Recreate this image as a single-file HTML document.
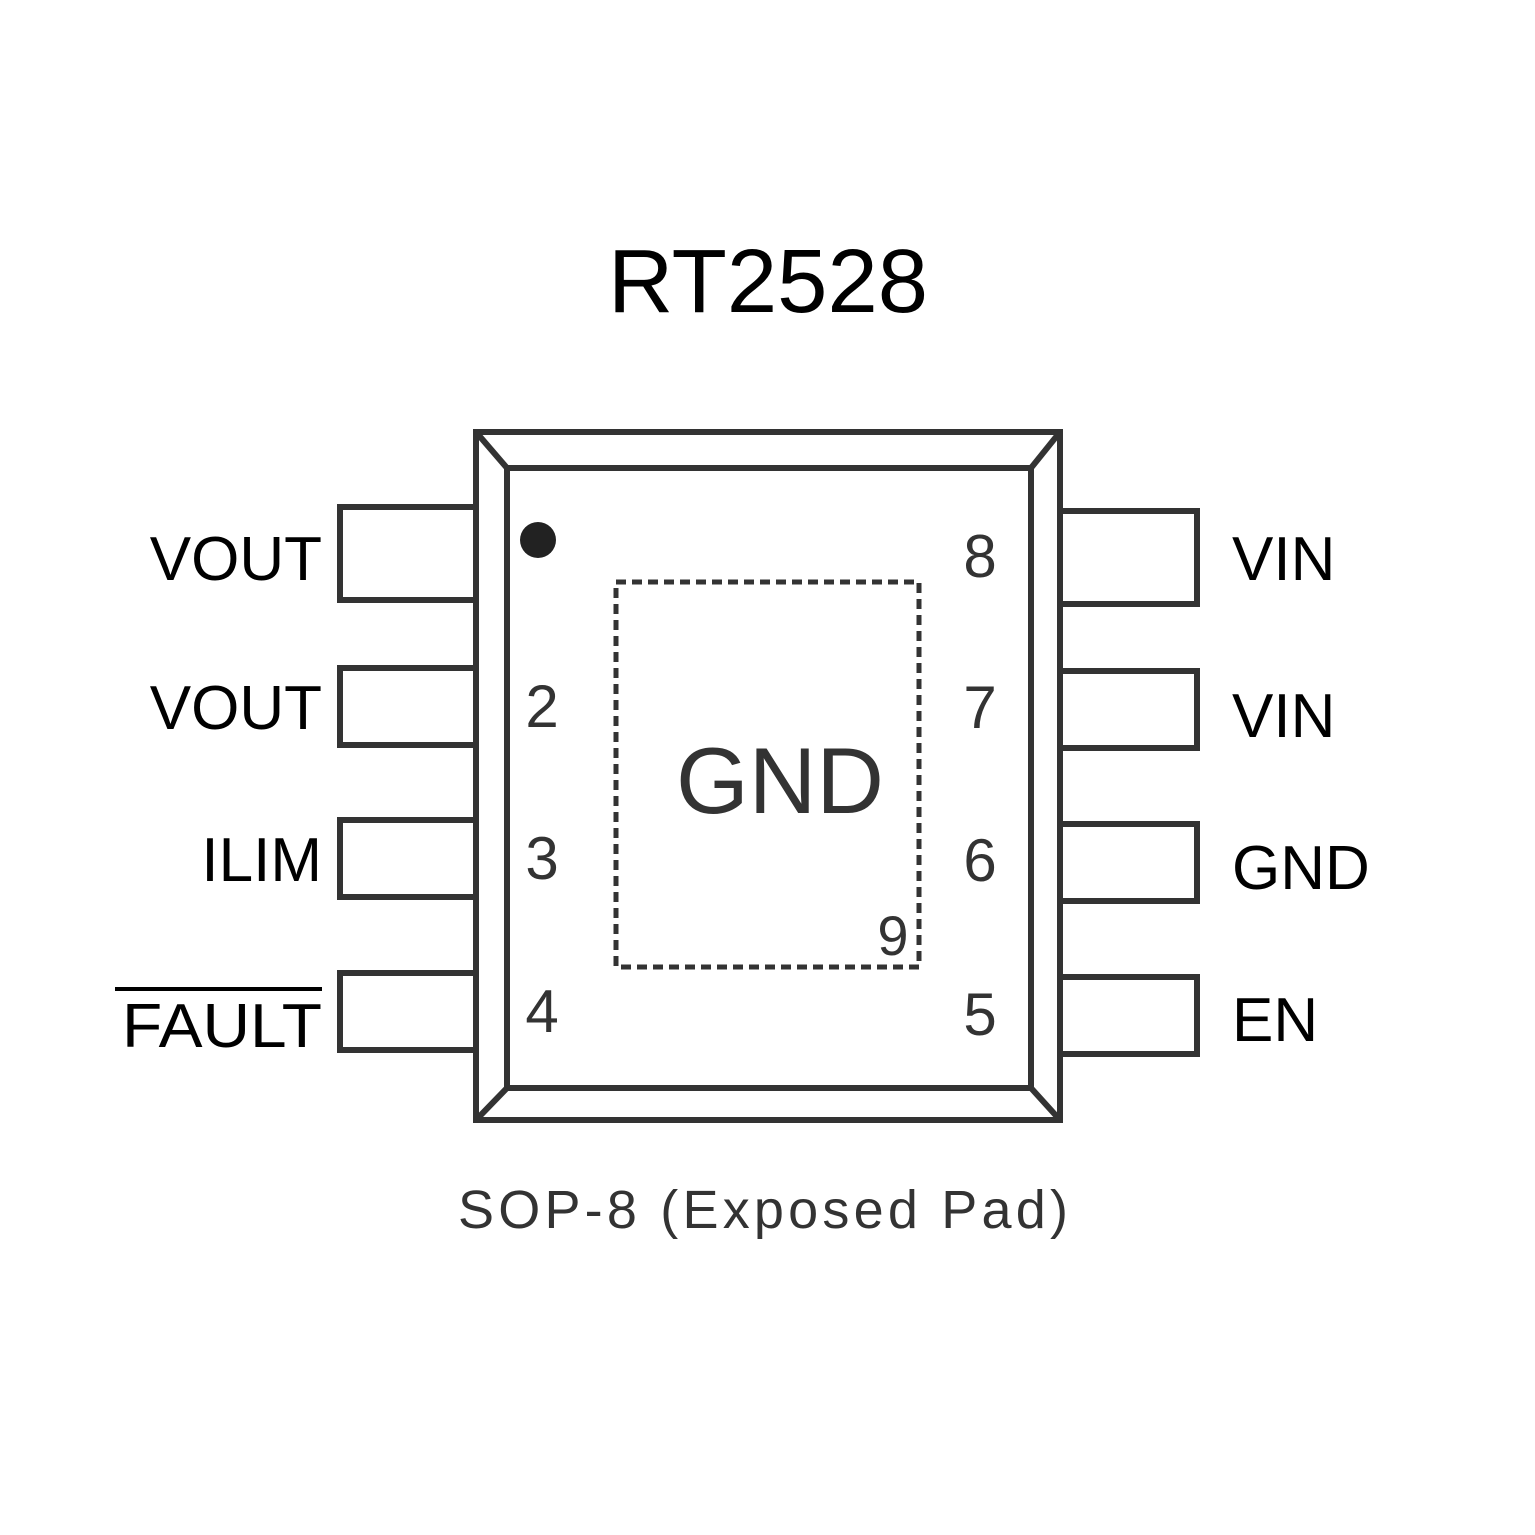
<!DOCTYPE html>
<html><head><meta charset="utf-8"><style>
html,body{margin:0;padding:0;background:#fff;}
svg{display:block;}
text{font-family:"Liberation Sans",Arial,sans-serif;}
</style></head><body>
<svg width="1535" height="1535" viewBox="0 0 1535 1535" xmlns="http://www.w3.org/2000/svg">
<rect width="1535" height="1535" fill="#fff"/>
<g fill="none" stroke="#333" stroke-width="6">
<rect x="476" y="432" width="584" height="688"/>
<rect x="507" y="468" width="524" height="620"/>
<line x1="476" y1="432" x2="507" y2="468"/>
<line x1="1060" y1="432" x2="1031" y2="468"/>
<line x1="476" y1="1120" x2="507" y2="1088"/>
<line x1="1060" y1="1120" x2="1031" y2="1088"/>
<rect x="340" y="507" width="136" height="93"/>
<rect x="340" y="668" width="136" height="77"/>
<rect x="340" y="820" width="136" height="77"/>
<rect x="340" y="973" width="136" height="77"/>
<rect x="1060" y="511" width="137" height="93"/>
<rect x="1060" y="671" width="137" height="77"/>
<rect x="1060" y="824" width="137" height="77"/>
<rect x="1060" y="977" width="137" height="77"/>
<rect x="616" y="582" width="303" height="385" stroke-width="5" stroke-dasharray="10,6"/>
<line x1="115" y1="989" x2="322" y2="989" stroke="#000" stroke-width="4"/>
</g>
<circle cx="538" cy="540" r="18" fill="#222"/>
<text x="608" y="312" font-size="90" textLength="320" lengthAdjust="spacingAndGlyphs" fill="#000">RT2528</text>
<g font-size="62" fill="#000" text-anchor="end">
<text x="322" y="580">VOUT</text>
<text x="322" y="729">VOUT</text>
<text x="322" y="881">ILIM</text>
</g>
<text x="122" y="1047" font-size="62" fill="#000" textLength="200" lengthAdjust="spacingAndGlyphs">FAULT</text>
<g font-size="62" fill="#000">
<text x="1232" y="580">VIN</text>
<text x="1232" y="737">VIN</text>
<text x="1232" y="889">GND</text>
<text x="1232" y="1041">EN</text>
</g>
<g font-size="60" fill="#333" text-anchor="middle">
<text x="542" y="727">2</text>
<text x="542" y="879">3</text>
<text x="542" y="1032">4</text>
<text x="980" y="577">8</text>
<text x="980" y="728">7</text>
<text x="980" y="881">6</text>
<text x="980" y="1035">5</text>
<text x="893" y="955" font-size="56">9</text>
</g>
<text x="676" y="813" font-size="94" textLength="208" lengthAdjust="spacingAndGlyphs" fill="#333">GND</text>
<text x="458" y="1228" font-size="54" textLength="610" lengthAdjust="spacing" fill="#333">SOP-8 (Exposed Pad)</text>
</svg>
</body></html>
